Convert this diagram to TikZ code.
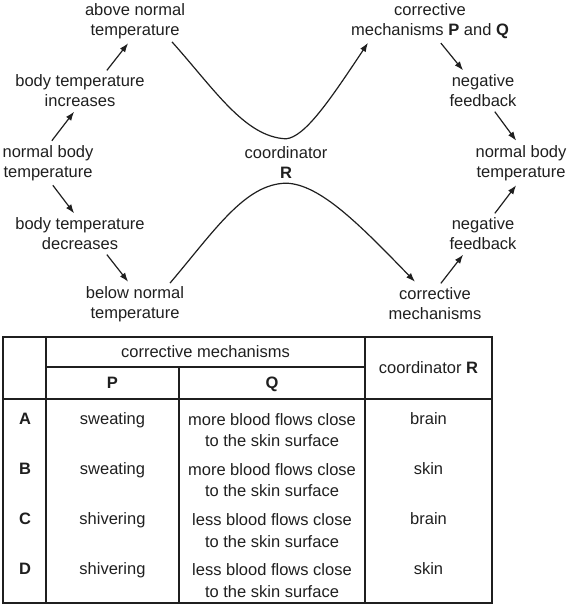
\documentclass[tikz,border=0pt]{standalone}
\usepackage{fontspec}
\setmainfont{Liberation Sans}
\usetikzlibrary{arrows.meta}
\begin{document}
\begin{tikzpicture}[x=1pt,y=-1pt,
 lbl/.style={align=center, inner sep=1pt, font=\fontsize{16.5}{20}\selectfont, text=black!88},
 cell/.style={align=center, inner sep=1pt, font=\fontsize{16.5}{21.5}\selectfont, text=black!88},
 one/.style={cell, text height=12pt, text depth=3.5pt},
 arr/.style={line width=1.2pt, draw=black!88, -{Latex[length=9pt,width=6.5pt]}, shorten <=3pt, shorten >=3pt},
 curvearr/.style={line width=1.2pt, draw=black!88, -{Latex[length=9pt,width=6.5pt]}},
 tline/.style={line width=1.3pt, draw=black!88}]
\useasboundingbox (0,0) rectangle (568,604);
% diagram nodes
\node[lbl] (above) at (135,21) {above normal\\temperature};
\node[lbl] (inc) at (80,91) {body temperature\\increases};
\node[lbl] (nl) at (48,163) {normal body\\temperature};
\node[lbl] (dec) at (80,234) {body temperature\\decreases};
\node[lbl] (below) at (135,304) {below normal\\temperature};
\node[lbl] (coord) at (286,163) {coordinator\\\textbf{R}};
\node[lbl] (pq) at (430,21) {corrective\\mechanisms \textbf{P} and \textbf{Q}};
\node[lbl] (nf1) at (483,91) {negative\\feedback};
\node[lbl] (nr) at (521,163) {normal body\\temperature};
\node[lbl] (nf2) at (483,234) {negative\\feedback};
\node[lbl] (cm) at (435,304) {corrective\\mechanisms};
% straight arrows
\draw[arr] ([xshift=2pt,yshift=1pt]nl.north) -- ([xshift=-4pt,yshift=-1pt]inc.south);
\draw[arr] ([xshift=25pt,yshift=1pt]inc.north) -- ([xshift=-5pt,yshift=-1pt]above.south);
\draw[arr] ([xshift=3pt,yshift=-1pt]nl.south) -- ([xshift=-4pt,yshift=1pt]dec.north);
\draw[arr] ([xshift=25pt,yshift=-1pt]dec.south) -- ([xshift=-5pt,yshift=1pt]below.north);
\draw[arr] ([xshift=9pt,yshift=-1pt]pq.south) -- ([xshift=-18pt,yshift=1pt]nf1.north);
\draw[arr] ([xshift=10pt,yshift=-1pt]nf1.south) -- ([xshift=-3pt,yshift=1pt]nr.north);
\draw[arr] ([xshift=4pt,yshift=1pt]cm.north) -- ([xshift=-18pt,yshift=-1pt]nf2.south);
\draw[arr] ([xshift=10pt,yshift=1pt]nf2.north) -- ([xshift=-3pt,yshift=-1pt]nr.south);
% curves through coordinator
\draw[curvearr] ([xshift=37pt,yshift=-2pt]above.south) .. controls (215,90) and (245,137) .. ([yshift=7pt]coord.north)
  .. controls (305,137) and (330,100) .. ([xshift=-62pt,yshift=-3pt]pq.south);
\draw[curvearr] ([xshift=35pt,yshift=2pt]below.north) .. controls (215,230) and (245,184) .. ([yshift=-3pt]coord.south)
  .. controls (320,184) and (360,225) .. ([xshift=-20pt,yshift=5pt]cm.north);
% table
\draw[tline] (3,337) rectangle (492,603);
\draw[tline] (46,337) -- (46,603);
\draw[tline] (365,337) -- (365,603);
\draw[tline] (179,367) -- (179,603);
\draw[tline] (46,367) -- (365,367);
\draw[tline] (3,399) -- (492,399);
\node[one] (hcm) at (205.5,353) {corrective mechanisms};
\node[one] (hp) at (112.5,384) {\textbf{P}};
\node[one] (hq) at (272,384) {\textbf{Q}};
\node[one] (hr) at (428.5,369) {coordinator \textbf{R}};
\node[one] (ra) at (25,420) {\textbf{A}};
\node[one] (pa) at (112.5,420) {sweating};
\node[cell] (qa) at (272,430) {more blood flows close\\to the skin surface};
\node[one] (ca) at (428.5,420) {brain};
\node[one] (rb) at (25,470) {\textbf{B}};
\node[one] (pb) at (112.5,470) {sweating};
\node[cell] (qb) at (272,480) {more blood flows close\\to the skin surface};
\node[one] (cb) at (428.5,470) {skin};
\node[one] (rc) at (25,520.5) {\textbf{C}};
\node[one] (pc) at (112.5,520.5) {shivering};
\node[cell] (qc) at (272,530.5) {less blood flows close\\to the skin surface};
\node[one] (cc) at (428.5,520.5) {brain};
\node[one] (rd) at (25,570.5) {\textbf{D}};
\node[one] (pd) at (112.5,570.5) {shivering};
\node[cell] (qd) at (272,580.5) {less blood flows close\\to the skin surface};
\node[one] (cd) at (428.5,570.5) {skin};
\end{tikzpicture}
\end{document}
